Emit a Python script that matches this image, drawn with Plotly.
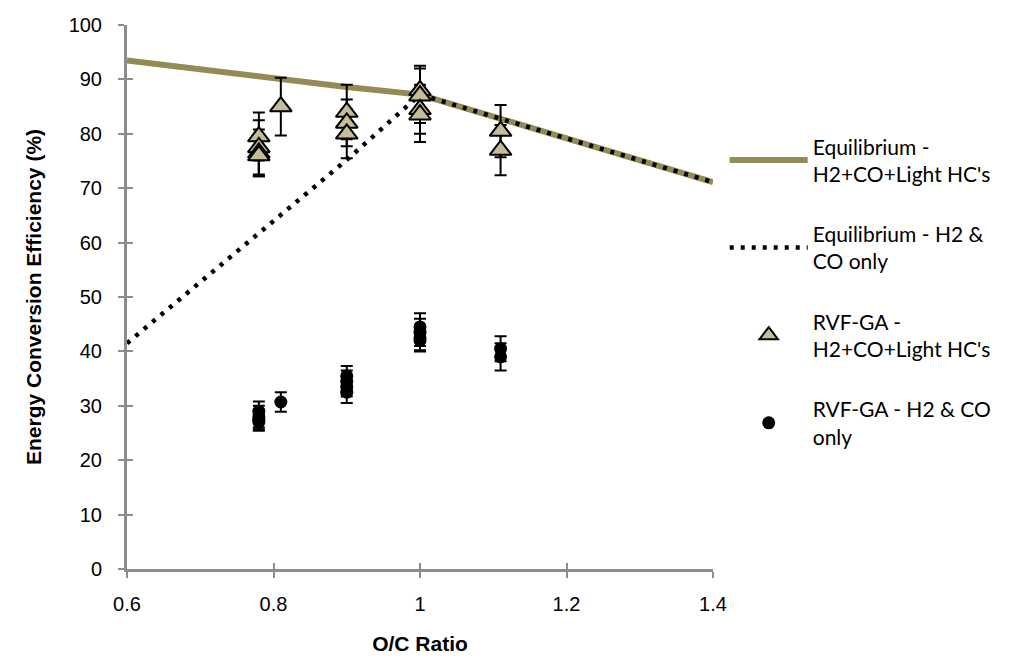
import plotly.graph_objects as go

# ---------------- data ----------------
eq_x = [0.6, 0.7, 0.8, 0.9, 1.0, 1.1, 1.2, 1.3, 1.4]
eq_hc = [93.5, 91.8, 90.2, 88.6, 87.2, 83.2, 79.2, 75.1, 71.1]
eq_h2co = [41.5, 52.8, 63.9, 75.2, 87.2, 83.2, 79.2, 75.1, 71.1]

rvf_hc_x = [0.78, 0.78, 0.78, 0.78, 0.81, 0.9, 0.9, 0.9, 1.0, 1.0, 1.0, 1.0, 1.11, 1.11]
rvf_hc_y = [79.5, 77.5, 76.5, 76.0, 85.0, 84.0, 82.0, 80.0, 88.0, 87.0, 84.5, 83.5, 80.5, 77.0]
rvf_hc_err = [4.4, 5.0, 4.3, 3.8, 5.3, 5.0, 4.3, 4.5, 4.5, 5.0, 4.5, 5.0, 4.8, 4.6]

rvf_co_x = [0.78, 0.78, 0.78, 0.78, 0.81, 0.9, 0.9, 0.9, 0.9, 1.0, 1.0, 1.0, 1.0, 1.11, 1.11]
rvf_co_y = [29.0, 28.0, 27.5, 27.0, 30.7, 35.5, 34.5, 33.5, 32.5, 44.5, 43.5, 42.5, 42.0, 40.5, 39.0]
rvf_co_err = [1.8, 2.0, 1.8, 1.6, 1.8, 1.8, 2.0, 1.8, 2.0, 2.5, 2.5, 2.3, 2.0, 2.3, 2.5]

names = [
    "Equilibrium -<br>H2+CO+Light HC's",
    "Equilibrium - H2 &<br>CO only",
    "RVF-GA -<br>H2+CO+Light HC's",
    "RVF-GA - H2 & CO<br>only",
]
x_ticks = [0.6, 0.8, 1.0, 1.2, 1.4]
x_tick_text = ["0.6", "0.8", "1", "1.2", "1.4"]
y_ticks = [0, 10, 20, 30, 40, 50, 60, 70, 80, 90, 100]

# ---------------- styles ----------------
OLIVE = "#948A54"
BEIGE = "#C4BD97"
AXIS = "#8C8C8C"

fig = go.Figure()
fig.add_trace(go.Scatter(
    x=eq_x, y=eq_hc, mode="lines", name=names[0], legendgroup="a",
    line=dict(color=OLIVE, width=6)))
fig.add_trace(go.Scatter(
    x=eq_x, y=eq_h2co, mode="lines", name=names[1], legendgroup="b",
    line=dict(color="black", width=4.5, dash="4px,7px")))
fig.add_trace(go.Scatter(
    x=rvf_hc_x, y=rvf_hc_y, mode="markers", name=names[2], legendgroup="c",
    marker=dict(symbol="triangle-up", size=19, color=BEIGE,
                line=dict(color="black", width=2)),
    error_y=dict(type="data", array=rvf_hc_err, color="black", thickness=2, width=6)))
fig.add_trace(go.Scatter(
    x=rvf_co_x, y=rvf_co_y, mode="markers", name=names[3], legendgroup="d",
    marker=dict(symbol="circle", size=13, color="black"),
    error_y=dict(type="data", array=rvf_co_err, color="black", thickness=2, width=6)))
# invisible helper trace for the inward half of the tick marks
fig.add_trace(go.Scatter(x=[0.6], y=[0], xaxis="x2", yaxis="y2", mode="markers",
                         marker=dict(opacity=0), showlegend=False, hoverinfo="skip"))

tickfont = dict(family="Liberation Sans, Arial", size=20, color="black")
fig.update_layout(
    width=1029, height=668,
    margin=dict(l=127, r=316, t=25, b=99),
    paper_bgcolor="white", plot_bgcolor="white",
    showlegend=True,
    xaxis=dict(range=[0.6, 1.4], tickvals=x_ticks, ticktext=x_tick_text,
               showgrid=False, zeroline=False, showline=True, linecolor=AXIS, linewidth=3,
               ticks="outside", ticklen=6, tickwidth=2, tickcolor=AXIS,
               ticklabelstandoff=9, tickfont=tickfont,
               title=dict(text="<b>O/C Ratio</b>", standoff=23,
                          font=dict(family="Liberation Sans, Arial", size=21, color="black"))),
    yaxis=dict(range=[0, 100], tickvals=y_ticks,
               showgrid=False, zeroline=False, showline=True, linecolor=AXIS, linewidth=3,
               ticks="outside", ticklen=6, tickwidth=2, tickcolor=AXIS,
               ticklabelstandoff=12, tickfont=tickfont,
               title=dict(text="<b>Energy Conversion Efficiency (%)</b>", standoff=22,
                          font=dict(family="Liberation Sans, Arial", size=21, color="black"))),
    xaxis2=dict(range=[0.6, 1.4], tickvals=x_ticks, overlaying="x", anchor="y2",
                showticklabels=False, showgrid=False, zeroline=False, showline=False,
                ticks="inside", ticklen=6, tickwidth=2, tickcolor=AXIS),
    yaxis2=dict(range=[0, 100], tickvals=y_ticks, overlaying="y", anchor="x2",
                showticklabels=False, showgrid=False, zeroline=False, showline=False,
                ticks="inside", ticklen=6, tickwidth=2, tickcolor=AXIS),
    legend=dict(x=1.02, y=0.814, xanchor="left", yanchor="top",
                font=dict(family="Lato, Open Sans", size=21, color="black"),
                tracegroupgap=30, bgcolor="rgba(0,0,0,0)", itemwidth=78),
)

fig.write_html("out.html")
